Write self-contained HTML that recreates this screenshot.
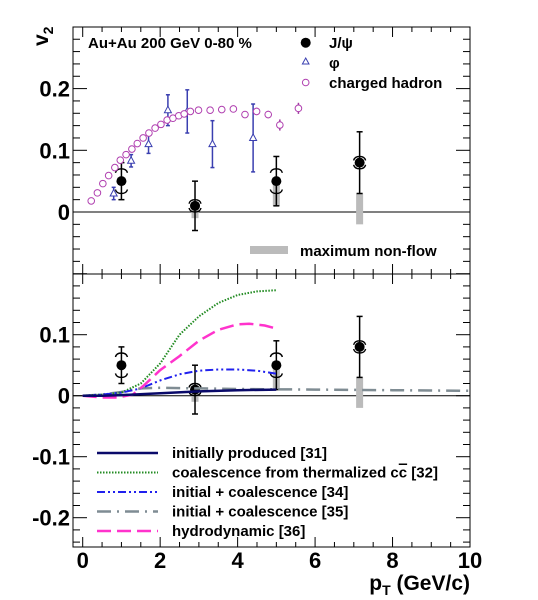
<!DOCTYPE html>
<html><head><meta charset="utf-8"><style>
html,body{margin:0;padding:0;background:#fff;}
svg{display:block;font-family:"Liberation Sans",Arial,sans-serif;}
</style></head><body>
<svg id="chart" width="538" height="600" viewBox="0 0 538 600"></svg>
<script>
// ---- data ----
const jpsiPt = [1.0, 2.9, 5.0, 7.15];
const jpsiV2 = [0.05, 0.01, 0.05, 0.08];
const jpsiStat = [0.03, 0.04, 0.04, 0.05];
const jpsiSysLo = [0.03, 0.0, 0.03, 0.07];
const jpsiSysHi = [0.07, 0.02, 0.07, 0.09];
const nonflowLo = [0.05, -0.01, 0.01, -0.02];
const nonflowHi = [0.05, 0.01, 0.05, 0.03];
const phiPt = [0.8, 1.25, 1.7, 2.2, 2.7, 3.35, 4.4];
const phiV2 = [0.03, 0.083, 0.11, 0.165, 0.163, 0.11, 0.12];
const phiErr = [0.01, 0.01, 0.015, 0.025, 0.035, 0.038, 0.055];
const hPt = [0.22,0.38,0.52,0.67,0.83,0.97,1.12,1.27,1.41,1.56,1.71,1.87,2.02,2.18,2.33,2.48,2.62,2.78,2.99,3.29,3.59,3.89,4.19,4.49,4.79,5.09,5.57];
const hV2 = [0.018,0.031,0.046,0.059,0.072,0.084,0.093,0.102,0.111,0.12,0.128,0.136,0.142,0.149,0.152,0.156,0.159,0.163,0.165,0.165,0.166,0.167,0.158,0.163,0.158,0.141,0.168];
const hErr = [0,0,0,0,0,0,0,0,0,0,0,0,0,0,0,0,0,0,0,0,0,0,0,0.006,0.006,0.009,0.009];
const initPt = [0,0.5,1,2,3,4,5];
const initV2 = [0,0,0.001,0.004,0.007,0.009,0.010];
const coalPt = [0,0.5,1,1.5,2,2.5,3,3.5,4,4.5,5];
const coalV2 = [0,0.002,0.005,0.02,0.053,0.1,0.13,0.152,0.165,0.171,0.173];
const ic34Pt = [0,0.5,1,1.5,2,2.5,3,3.5,4,4.5,5];
const ic34V2 = [0,0.002,0.005,0.012,0.025,0.035,0.041,0.043,0.043,0.041,0.036];
const ic35Pt = [0,0.5,1,1.5,2,3,4,6,8,10];
const ic35V2 = [0,0.002,0.006,0.012,0.013,0.012,0.011,0.010,0.009,0.008];
const hydroPt = [0,0.5,0.9,1.3,1.6,2,2.5,3,3.5,4,4.3,4.7,5];
const hydroV2 = [0,-0.003,-0.003,0.002,0.018,0.042,0.065,0.09,0.108,0.117,0.118,0.115,0.11];
const yTicksTop = ["0","0.1","0.2"];
const yTicksBot = ["-0.2","-0.1","0","0.1"];
const xTicks = ["0","2","4","6","8","10"];

// ---- axes ----
const NS = "http://www.w3.org/2000/svg";
const svg = document.getElementById('chart');
const FL = 73, FR = 470;
const X = v => 82.7 + v * 38.73;
const topP = {t:27, b:274, y: v => 212 - v * 617, min:-0.1, max:0.3};
const botP = {t:274, b:547, y: v => 395.7 - v * 610, min:-0.25, max:0.2};
function el(tag, attrs, parent){
  const e = document.createElementNS(NS, tag);
  for (const k in attrs) e.setAttribute(k, attrs[k]);
  (parent || svg).appendChild(e);
  return e;
}
function txt(s, x, y, attrs, parent){
  const t = el('text', Object.assign({x:x, y:y, fill:'#000'}, attrs), parent);
  t.textContent = s;
  return t;
}
function frame(p, name){
  const g = el('g', {});
  
  
  el('rect', {x:FL, y:p.t, width:FR-FL, height:p.b-p.t, fill:'none', stroke:'#000', 'stroke-width':1}, g);
  for (let i = Math.round(p.min*50); i <= Math.round(p.max*50); i++){
    const v = i/50, y = p.y(v);
    if (y < p.t || y > p.b) continue;
    const len = (i % 5 === 0) ? 14 : 7;
    el('line', {x1:FL, x2:FL+len, y1:y, y2:y, stroke:'#000', 'stroke-width':1}, g);
    el('line', {x1:FR, x2:FR-len, y1:y, y2:y, stroke:'#000', 'stroke-width':1}, g);
  }
  for (let i = 0; i <= 20; i++){
    const x = X(i/2), len = (i % 4 === 0) ? 10 : 5;
    el('line', {x1:x, x2:x, y1:p.b, y2:p.b-len, stroke:'#000', 'stroke-width':1}, g);
    el('line', {x1:x, x2:x, y1:p.t, y2:p.t+len, stroke:'#000', 'stroke-width':1}, g);
  }
  el('line', {x1:FL, x2:FR, y1:p.y(0), y2:p.y(0), stroke:'#000', 'stroke-width':1}, g);
  return g;
}
frame(topP, 'top-panel');
frame(botP, 'bottom-panel');

yTicksTop.forEach(s => {
  const t = txt(s, 70, topP.y(parseFloat(s)) + 8, {'font-size':22, 'font-weight':'bold', 'text-anchor':'end'});
  
  
});
yTicksBot.forEach(s => {
  const t = txt(s, 70, botP.y(parseFloat(s)) + 8, {'font-size':22, 'font-weight':'bold', 'text-anchor':'end'});
  
  
});
xTicks.forEach(s => {
  const t = txt(s, X(parseFloat(s)), 568, {'font-size':22, 'font-weight':'bold', 'text-anchor':'middle'});
  
  
});
const xt = txt('', 470, 590, {'font-size':21, 'font-weight':'bold', 'text-anchor':'end'});
xt.innerHTML = 'p<tspan font-size="14" dy="5">T</tspan><tspan dy="-5"> (GeV/c)</tspan>';


const yt = txt('', 0, 0, {'font-size':21, 'font-weight':'bold', transform:'translate(48,46) rotate(-90)'});
yt.innerHTML = 'v<tspan font-size="14" dy="5">2</tspan>';



// ---- marks ----
function jpsi(p, name){
  const g = el('g', {});
  
  
  jpsiPt.forEach((pt, i) => {
    const x = X(pt);
    if (nonflowHi[i] > nonflowLo[i]){
      el('rect', {x:x-3.5, y:p.y(nonflowHi[i]), width:7, height:p.y(nonflowLo[i])-p.y(nonflowHi[i]), fill:'#bbb'}, g);
    }
    el('line', {x1:x, x2:x, y1:p.y(jpsiV2[i]+jpsiStat[i]), y2:p.y(jpsiV2[i]-jpsiStat[i]), stroke:'#000', 'stroke-width':1.5}, g);
    [-1,1].forEach(d => {
      el('line', {x1:x-3, x2:x+3, y1:p.y(jpsiV2[i]+d*jpsiStat[i]), y2:p.y(jpsiV2[i]+d*jpsiStat[i]), stroke:'#000', 'stroke-width':1.5}, g);
    });
    const yh = p.y(jpsiSysHi[i]), yl = p.y(jpsiSysLo[i]);
    el('path', {d:`M${x-6},${yh+4} Q${x-5},${yh} ${x},${yh} Q${x+5},${yh} ${x+6},${yh+4}`, fill:'none', stroke:'#000', 'stroke-width':1.4}, g);
    el('path', {d:`M${x-6},${yl-4} Q${x-5},${yl} ${x},${yl} Q${x+5},${yl} ${x+6},${yl-4}`, fill:'none', stroke:'#000', 'stroke-width':1.4}, g);
    el('circle', {cx:x, cy:p.y(jpsiV2[i]), r:5, fill:'#000'}, g);
  });
}
jpsi(topP, 'jpsi-points-top');
jpsi(botP, 'jpsi-points-bottom');

const gPhi = el('g', {});


phiPt.forEach((pt, i) => {
  const x = X(pt), y = topP.y(phiV2[i]);
  el('line', {x1:x, x2:x, y1:topP.y(phiV2[i]+phiErr[i]), y2:topP.y(phiV2[i]-phiErr[i]), stroke:'#3a3fb0', 'stroke-width':1.5}, gPhi);
  [-1,1].forEach(d => el('line', {x1:x-2, x2:x+2, y1:topP.y(phiV2[i]+d*phiErr[i]), y2:topP.y(phiV2[i]+d*phiErr[i]), stroke:'#3a3fb0', 'stroke-width':1.5}, gPhi));
  el('path', {d:`M${x},${y-4} L${x+3.5},${y+2.5} L${x-3.5},${y+2.5} Z`, fill:'#fff', stroke:'#3a3fb0', 'stroke-width':1}, gPhi);
});
const gH = el('g', {});


hPt.forEach((pt, i) => {
  const x = X(pt), y = topP.y(hV2[i]);
  if (hErr[i] > 0) el('line', {x1:x, x2:x, y1:topP.y(hV2[i]+hErr[i]), y2:topP.y(hV2[i]-hErr[i]), stroke:'#a03aa0', 'stroke-width':1.5}, gH);
  el('circle', {cx:x, cy:y, r:3.3, fill:'#fff', stroke:'#b040b0', 'stroke-width':1}, gH);
});

function curve(xs, ys, color, dash, w, name){
  const d = xs.map((v, i) => (i ? 'L' : 'M') + X(v).toFixed(1) + ',' + botP.y(ys[i]).toFixed(1)).join(' ');
  const pth = el('path', {d:d, fill:'none', stroke:color, 'stroke-width':w, 'stroke-dasharray':dash});
  
  
}
curve(ic35Pt, ic35V2, '#7f8c93', '14,6,2,6', 2.5, 'curve-initial-coalescence-35');
curve(coalPt, coalV2, '#228b22', '1.5,1.5', 2, 'curve-coalescence-32');
curve(ic34Pt, ic34V2, '#2020ee', '8,3,2,3,2,3', 2, 'curve-initial-coalescence-34');
curve(hydroPt, hydroV2, '#ff33cc', '14,6', 2.5, 'curve-hydrodynamic-36');
curve(initPt, initV2, '#0a0a6a', 'none', 2.5, 'curve-initially-produced-31');

// top legend
const lt = el('g', {});


txt('Au+Au 200 GeV 0-80 %', 88, 48, {'font-size':15, 'font-weight':'bold'}, lt);
el('circle', {cx:305.7, cy:42.7, r:5, fill:'#000'}, lt);
txt('J/ψ', 329, 48, {'font-size':15, 'font-weight':'bold'}, lt);
el('path', {d:'M305.7,58 L309,64 L302.4,64 Z', fill:'#fff', stroke:'#3a3fb0', 'stroke-width':1}, lt);
txt('φ', 329, 68, {'font-size':15, 'font-weight':'bold'}, lt);
el('circle', {cx:305.7, cy:82.5, r:3.3, fill:'#fff', stroke:'#b040b0', 'stroke-width':1}, lt);
txt('charged hadron', 329, 88, {'font-size':15, 'font-weight':'bold'}, lt);
el('rect', {x:250, y:246, width:38, height:8, fill:'#bbb'}, lt);
txt('maximum non-flow', 300, 256, {'font-size':15, 'font-weight':'bold'}, lt);

// bottom legend
const lb = el('g', {});


const legItems = [
  ['initially produced [31]', '#0a0a6a', 'none', 2.5],
  ['coalescence from thermalized c<tspan text-decoration="overline">c</tspan> [32]', '#228b22', '1.5,1.5', 2],
  ['initial + coalescence [34]', '#2020ee', '8,3,2,3,2,3', 2],
  ['initial + coalescence [35]', '#7f8c93', '14,6,2,6', 2.5],
  ['hydrodynamic [36]', '#ff33cc', '14,6', 2.5]
];
const legY = [453, 472.5, 492, 511.5, 531];
legItems.forEach((it, i) => {
  el('line', {x1:97, x2:158, y1:legY[i], y2:legY[i], stroke:it[1], 'stroke-dasharray':it[2], 'stroke-width':it[3]}, lb);
  const t = txt('', 172, legY[i]+5, {'font-size':15, 'font-weight':'bold'}, lb);
  t.innerHTML = it[0];
});
</script>
</body></html>
